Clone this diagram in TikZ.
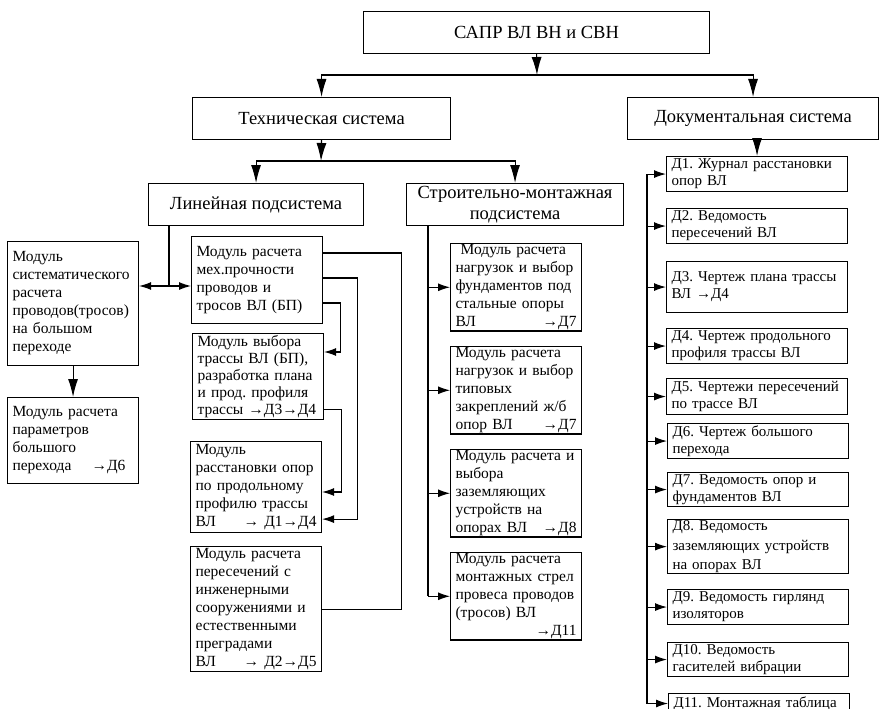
\documentclass[tikz,border=0pt]{standalone}
\usepackage{fontspec}
\setmainfont{Liberation Serif}
\usetikzlibrary{arrows.meta,calc}
\tikzset{ttl/.style={draw,anchor=north west,align=center,inner sep=0pt,font=\fontsize{18.5}{21}\selectfont},
  mdl/.style={draw,anchor=north west,align=left,inner xsep=5pt,inner ysep=1pt,text width=121pt,font=\fontsize{15.5}{18}\selectfont},
  dcm/.style={mdl,text width=171pt,font=\fontsize{15}{17}\selectfont},
  big/.style={-{Latex[length=18pt,width=10pt]}}}

\begin{document}
\frenchspacing
\begin{tikzpicture}[x=1pt,y=-1pt,line width=1.1pt,>={Latex[length=12pt,width=8pt]}]
  \useasboundingbox (0,0) rectangle (879,709);
  \clip (0,0) rectangle (879,709);
  % upper levels
  \node[ttl,minimum width=346pt,minimum height=42pt] (sapr) at (363,11) {САПР ВЛ ВН и СВН};
  \node[ttl,minimum width=258pt,minimum height=42pt] (tech) at (192,97) {Техническая система};
  \node[ttl,minimum width=251pt,minimum height=42pt] (doc) at (627,97) {Документальная система};
  \node[ttl,minimum width=215pt,minimum height=42pt] (lin) at (148,183) {Линейная подсистема};
  \node[ttl,minimum width=217pt,minimum height=42pt] (stroy) at (406,183) {Строительно-монтажная\\подсистема};
  \coordinate (top) at (537,75);
  \coordinate (tj) at (321,161);
  \draw[big] (sapr.south) -- (top);
  \draw[big] (top) -| (tech.north);
  \draw[big] (top) -| (doc.north);
  \draw[big] (tech.south) -- (tj);
  \draw[big] (tj) -| (lin.north);
  \draw[big] (tj) -| (stroy.north);

  % linear subsystem
  \node[mdl,minimum height=124pt] (sys) at (7,241) {Модуль\\систематического\\расчета\\проводов(тросов)\\на большом\\переходе};
  \node[mdl,minimum height=86pt] (par) at (7,397) {Модуль расчета\\параметров\\большого\\перехода\hspace{1.3em}→Д6};
  \node[mdl,minimum height=87pt] (m1) at (191,236) {Модуль расчета\\мех.прочности\\проводов и\\тросов ВЛ (БП)};
  \node[mdl,minimum height=86pt,font=\fontsize{15.5}{17}\selectfont] (m2) at (192,333) {Модуль выбора\\трассы ВЛ (БП),\\разработка плана\\и прод. профиля\\трассы →Д3→Д4};
  \node[mdl,minimum height=91pt] (m3) at (190,441) {Модуль\\расстановки опор\\по продольному\\профилю трассы\\ВЛ \hfill → Д1→Д4};
  \node[mdl,minimum height=125pt] (m4) at (190,546) {Модуль расчета\\пересечений с\\инженерными\\сооружениями и\\естественными\\преградами\\ВЛ \hfill → Д2→Д5};
  \coordinate (lj) at (169,286);
  \draw (lin.south -| lj) -- (lj);
  \draw[<->] (sys.east |- lj) -- (m1.west |- lj);
  \draw[big] (sys) -- (par);
  \draw ($(m1.north east)+(0,17)$) -| ($(m4.east)+(79,0)$) -- (m4.east);
  \draw[->] ($(m1.north east)+(0,42)$) -| ($(m3.south east)+(35,-14)$) -- ($(m3.south east)+(0,-14)$);
  \draw[->] ($(m1.north east)+(0,67)$) -| ($(m2.north east)+(16,19)$) -- ($(m2.north east)+(0,19)$);
  \draw[->] ($(m2.south east)+(0,-11)$) -| ($(m3.north east)+(19,51)$) -- ($(m3.north east)+(0,51)$);

  % construction subsystem
  \node[mdl,minimum height=85pt] (s1) at (450,243) {\ Модуль расчета\\нагрузок и выбор\\фундаментов под\\стальные опоры\\ВЛ \hfill →Д7};
  \node[mdl,minimum height=86pt] (s2) at (450,346) {Модуль расчета\\нагрузок и выбор\\типовых\\закреплений ж/б\\опор ВЛ \hfill →Д7};
  \node[mdl,minimum height=87pt] (s3) at (450,449) {Модуль расчета и\\выбора\\заземляющих\\устройств на\\опорах ВЛ \hfill →Д8};
  \node[mdl,minimum height=87pt] (s4) at (450,552) {Модуль расчета\\монтажных стрел\\провеса проводов\\(тросов) ВЛ\\\mbox{}\hfill →Д11};
  \coordinate (sb) at (428,0);
  \draw (stroy.south -| sb) -- (s4.west -| sb);
  \foreach \s in {s1,s2,s3,s4}
    \draw[->] (\s.west -| sb) -- (\s.west);

  % documents
  \node[dcm,minimum height=35pt] (d1) at (666,156) {Д1. Журнал расстановки\\опор ВЛ};
  \node[dcm,minimum height=35pt] (d2) at (666,208) {Д2. Ведомость\\пересечений ВЛ};
  \node[dcm,minimum height=51pt] (d3) at (666,261) {Д3. Чертеж плана трассы\\ВЛ →Д4};
  \node[dcm,minimum height=35pt] (d4) at (666,328) {Д4. Чертеж продольного\\профиля трассы ВЛ};
  \node[dcm,minimum height=36pt] (d5) at (666,378) {Д5. Чертежи пересечений\\по трассе ВЛ};
  \node[dcm,minimum height=35pt] (d6) at (667,423) {Д6. Чертеж большого\\перехода};
  \node[dcm,minimum height=34pt] (d7) at (667,472) {Д7. Ведомость опор и\\фундаментов ВЛ};
  \node[dcm,minimum height=54pt,font=\fontsize{15}{19.5}\selectfont] (d8) at (667,519) {Д8. Ведомость\\заземляющих устройств\\на опорах ВЛ};
  \node[dcm,minimum height=35pt] (d9) at (667,589) {Д9. Ведомость гирлянд\\изоляторов};
  \node[dcm,minimum height=34pt] (d10) at (667,642) {Д10. Ведомость\\гасителей вибрации};
  \node[dcm,inner ysep=3pt] (d11) at (668,693) {Д11. Монтажная таблица};
  \coordinate (db) at (647,0);
  \draw[big] (doc.south -| d1.north) -- (d1.north);
  \draw (d1.west -| db) -- (d11.west -| db);
  \foreach \d in {d1,d2,d3,d4,d5,d6,d7,d8,d9,d10,d11}
    \draw[->] (\d.west -| db) -- (\d.west);
\end{tikzpicture}
\end{document}
